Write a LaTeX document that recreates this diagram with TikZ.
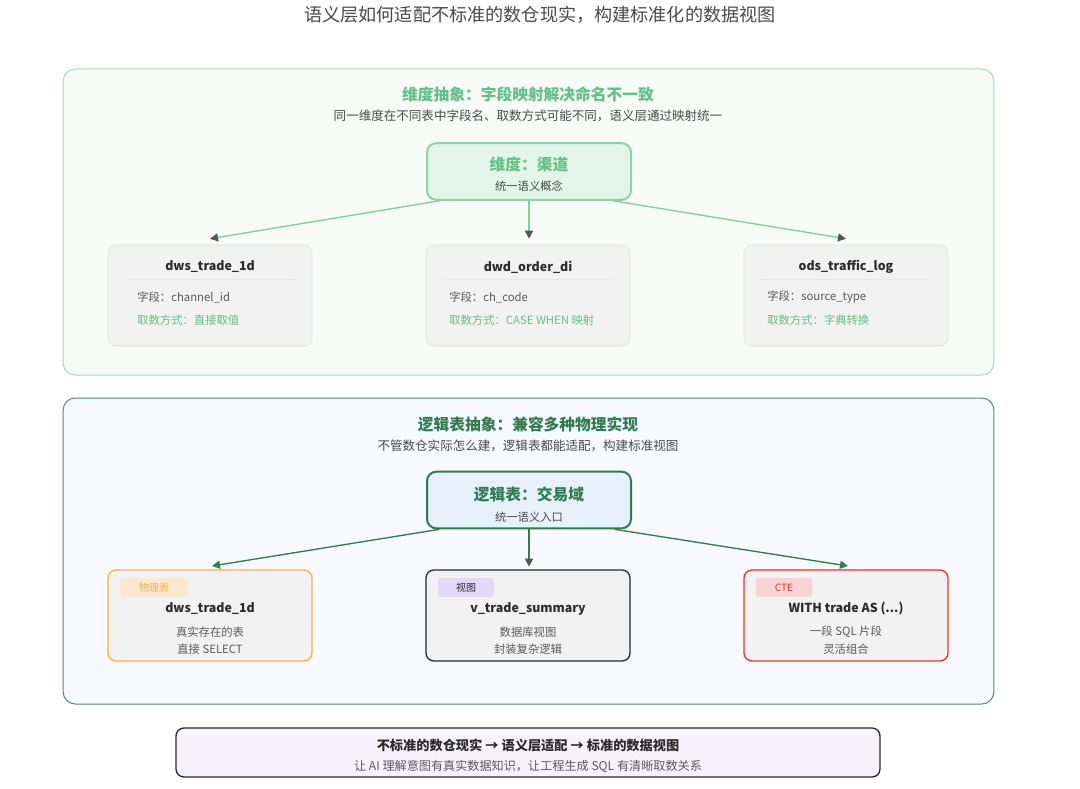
\documentclass[tikz,border=0pt]{standalone}
\usepackage{fontspec}
\setmainfont{Noto Sans CJK SC}
\usepackage{xcolor}
\usetikzlibrary{arrows.meta}

\definecolor{inkdark}{HTML}{2B2B2B}
\definecolor{inkmid}{HTML}{4A4A4A}
\definecolor{inkbody}{HTML}{5A5A5A}
\definecolor{dimgreen}{HTML}{62C184}
\definecolor{dimline}{HTML}{7FD09A}
\definecolor{dimborder}{HTML}{A3DDB5}
\definecolor{dimfill}{HTML}{F6FBF8}
\definecolor{dimcorefill}{HTML}{E3F5E9}
\definecolor{dimcoreborder}{HTML}{8ED3A6}
\definecolor{logicgreen}{HTML}{2F7D4F}
\definecolor{logicborder}{HTML}{4E9068}
\definecolor{logicfill}{HTML}{F8F9FD}
\definecolor{logiccorefill}{HTML}{E8F0FC}
\definecolor{tabfill}{HTML}{F2F2F2}
\definecolor{tabborder}{HTML}{DEDEDE}
\definecolor{tipgray}{HTML}{555555}
\definecolor{physorange}{HTML}{F3B544}
\definecolor{physfill}{HTML}{FBE6CE}
\definecolor{viewpurple}{HTML}{E2D9F6}
\definecolor{ctered}{HTML}{E8352F}
\definecolor{ctefill}{HTML}{F8D3D3}
\definecolor{bottomfill}{HTML}{F6F3FD}

\begin{document}
\begin{tikzpicture}[x=0.75pt,y=-0.75pt,thin]
    \tikzset{
        panel/.style={rounded corners=9pt, line width=0.75pt, minimum width=698pt, minimum height=229.5pt},
        core/.style={rounded corners=7pt, line width=1.5pt, minimum width=153pt, minimum height=42.5pt},
        tab/.style={rounded corners=6pt, fill=tabfill, minimum width=153pt},
        tag/.style={rounded corners=2pt, minimum width=#1, minimum height=14pt, font=\fontsize{7.5}{9}\selectfont},
        txt/.style={inner sep=0pt, text=inkbody, font=\fontsize{8.5}{10}\selectfont},
        tabtitle/.style={inner sep=0pt, text=inkdark, font=\fontsize{9.3}{11}\selectfont\bfseries},
        dimarrow/.style={-{Triangle[length=6pt,width=6pt,color=tipgray]}, draw=dimline, line width=1pt},
        logicarrow/.style={-{Triangle[length=6pt,width=6pt]}, draw=logicgreen, line width=1pt}
    }

    \useasboundingbox (0,0) rectangle (1080,788);
    \fill[white] (0,0) rectangle (1080,788);

    \node[inner sep=0pt, text=inkmid, font=\fontsize{13.6}{15}\selectfont] (title) at (540,15) {语义层如何适配不标准的数仓现实，构建标准化的数据视图};

    % dimension panel
    \node[panel, draw=dimborder, fill=dimfill] (dimpanel) at (528.5,222) {};
    \node[inner sep=0pt, text=dimgreen, font=\fontsize{11.8}{14}\selectfont\bfseries] (dimhead) at (528,94) {维度抽象：字段映射解决命名不一致};
    \node[txt, text=inkmid, font=\fontsize{9.4}{11}\selectfont] (dimsub) at (528,116) {同一维度在不同表中字段名、取数方式可能不同，语义层通过映射统一};

    \node[core, draw=dimcoreborder, fill=dimcorefill] (dimcore) at (529,171.5) {};
    \node[inner sep=0pt, text=dimgreen, font=\fontsize{11.8}{14}\selectfont\bfseries] (dimcorename) at (529,165) {维度：渠道};
    \node[txt, text=inkmid] (dimcoresub) at (529,186) {统一语义概念};

    \node[tab, draw=tabborder, minimum height=75.75pt] (dimtaba) at (210,295.5) {};
    \node[tab, draw=tabborder, minimum height=75.75pt] (dimtabb) at (528,295.5) {};
    \node[tab, draw=tabborder, minimum height=75.75pt] (dimtabc) at (846,295.5) {};

    \node[tabtitle] (dimnamea) at (210,267) {dws\_trade\_1d};
    \node[tabtitle] (dimnameb) at (528,267) {dwd\_order\_di};
    \node[tabtitle] (dimnamec) at (846,267) {ods\_traffic\_log};

    \draw[draw=tabborder!70] (125,279) -- (295,279);
    \draw[draw=tabborder!70] (443,279) -- (613,279);
    \draw[draw=tabborder!70] (761,279) -- (931,279);

    \node[txt, anchor=west] (dimfielda) at (137,297) {字段：channel\_id};
    \node[txt, anchor=west] (dimfieldb) at (449,297) {字段：ch\_code};
    \node[txt, anchor=west] (dimfieldc) at (767,297) {字段：source\_type};
    \node[txt, anchor=west, text=dimgreen] (dimwaya) at (137,320) {取数方式：直接取值};
    \node[txt, anchor=west, text=dimgreen] (dimwayb) at (449,320) {取数方式：CASE WHEN 映射};
    \node[txt, anchor=west, text=dimgreen] (dimwayc) at (767,320) {取数方式：字典转换};

    \draw[dimarrow] ([xshift=10pt]dimcore.south west) -- ([yshift=4.5pt]dimtaba.north);
    \draw[dimarrow] (dimcore.south) -- ([xshift=0.75pt,yshift=4.5pt]dimtabb.north);
    \draw[dimarrow] ([xshift=-14pt]dimcore.south east) -- ([yshift=4.5pt]dimtabc.north);

    % logic table panel
    \node[panel, draw=logicborder, fill=logicfill] (logicpanel) at (528.5,551) {};
    \node[inner sep=0pt, text=logicgreen, font=\fontsize{11.8}{14}\selectfont\bfseries] (logichead) at (528,424) {逻辑表抽象：兼容多种物理实现};
    \node[txt, text=inkmid, font=\fontsize{9.4}{11}\selectfont] (logicsub) at (528,446) {不管数仓实际怎么建，逻辑表都能适配，构建标准视图};

    \node[core, draw=logicgreen, fill=logiccorefill] (logiccore) at (529,500) {};
    \node[inner sep=0pt, text=logicgreen, font=\fontsize{11.8}{14}\selectfont\bfseries] (logiccorename) at (529,494) {逻辑表：交易域};
    \node[txt, text=inkmid] (logiccoresub) at (529,517) {统一语义入口};

    \node[tab, draw=physorange, line width=1pt, minimum height=68.25pt] (phystab) at (210,615.5) {};
    \node[tab, draw=inkdark, line width=1pt, minimum height=68.25pt] (viewtab) at (528,615.5) {};
    \node[tab, draw=ctered, line width=1pt, minimum height=68.25pt] (ctetab) at (846,615.5) {};

    \node[tag=51pt, fill=physfill, text=physorange] (phystag) at (154,587.5) {物理表};
    \node[tag=42pt, fill=viewpurple, text=inkdark] (viewtag) at (466,587.5) {视图};
    \node[tag=42pt, fill=ctefill, text=ctered] (ctetag) at (784,587.5) {CTE};

    \node[tabtitle] (physname) at (210,609) {dws\_trade\_1d};
    \node[tabtitle] (viewname) at (528,609) {v\_trade\_summary};
    \node[tabtitle] (ctename) at (846,609) {WITH trade AS (...)};

    \node[txt] (physlinea) at (210,632) {真实存在的表};
    \node[txt] (physlineb) at (210,649) {直接 SELECT};
    \node[txt] (viewlinea) at (528,632) {数据库视图};
    \node[txt] (viewlineb) at (528,649) {封装复杂逻辑};
    \node[txt] (ctelinea) at (846,632) {一段 SQL 片段};
    \node[txt] (ctelineb) at (846,649) {灵活组合};

    \draw[logicarrow] ([xshift=10pt]logiccore.south west) -- ([xshift=1.5pt,yshift=2.5pt]phystab.north);
    \draw[logicarrow, -{Triangle[length=6pt,width=6pt,color=tipgray]}] (logiccore.south) -- ([xshift=0.75pt,yshift=2pt]viewtab.north);
    \draw[logicarrow] ([xshift=-13pt]logiccore.south east) -- ([xshift=1.5pt,yshift=2.5pt]ctetab.north);

    % summary
    \node[rounded corners=6pt, draw=inkdark, line width=1pt, fill=bottomfill, minimum width=528pt, minimum height=36.75pt] (summary) at (528,752.5) {};
    \node[inner sep=0pt, text=inkdark, font=\fontsize{9.9}{11}\selectfont\bfseries] (summaryhead) at (528,745) {不标准的数仓现实 → 语义层适配 → 标准的数据视图};
    \node[txt, font=\fontsize{9.1}{10}\selectfont] (summarysub) at (528,766) {让 AI 理解意图有真实数据知识，让工程生成 SQL 有清晰取数关系};
\end{tikzpicture}
\end{document}
